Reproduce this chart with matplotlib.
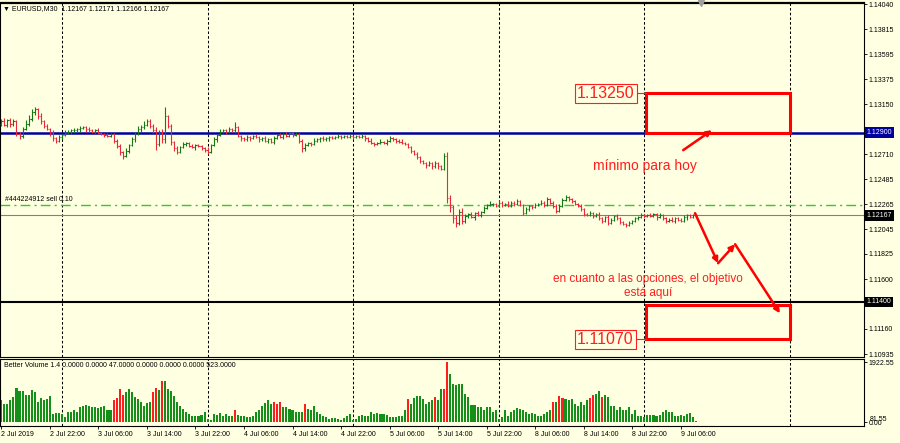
import matplotlib

matplotlib.use("Agg")

import matplotlib.pyplot as plt
from matplotlib.patches import Rectangle
import numpy as np

# ---- data (EURUSD M30, 2 Jul 14:00 -> 9 Jul 07:30) ----
first_open = 1.1298
closes = [
    1.1300, 1.1297, 1.1301, 1.1298, 1.1300, 1.1289, 1.1287, 1.1293, 1.1298, 1.1302,
    1.1308, 1.1311, 1.1305, 1.1300, 1.1296, 1.1293, 1.1290, 1.1285, 1.1283, 1.1286,
    1.1288, 1.1290, 1.1291, 1.1292, 1.1292, 1.1293, 1.1294, 1.1295, 1.1293, 1.1292,
    1.1291, 1.1292, 1.1290, 1.1289, 1.1288, 1.1287, 1.1289, 1.1283, 1.1278, 1.1273,
    1.1269, 1.1274, 1.1279, 1.1284, 1.1289, 1.1293, 1.1295, 1.1297, 1.1300, 1.1296,
    1.1292, 1.1280, 1.1290, 1.1284, 1.1305, 1.1296, 1.1282, 1.1276, 1.1273, 1.1277,
    1.1280, 1.1281, 1.1278, 1.1277, 1.1279, 1.1278, 1.1276, 1.1275, 1.1273, 1.1279,
    1.1284, 1.1288, 1.1291, 1.1292, 1.1291, 1.1293, 1.1292, 1.1295, 1.1287, 1.1285,
    1.1284, 1.1286, 1.1285, 1.1287, 1.1286, 1.1284, 1.1285, 1.1283, 1.1284, 1.1282,
    1.1285, 1.1288, 1.1286, 1.1289, 1.1287, 1.1290, 1.1288, 1.1289, 1.1283, 1.1276,
    1.1279, 1.1281, 1.1280, 1.1283, 1.1284, 1.1285, 1.1284, 1.1285, 1.1286, 1.1285,
    1.1286, 1.1287, 1.1286, 1.1287, 1.1286, 1.1287, 1.1286, 1.1287, 1.1286, 1.1287,
    1.1285, 1.1283, 1.1281, 1.1280, 1.1281, 1.1282, 1.1281, 1.1283, 1.1285, 1.1284,
    1.1283, 1.1282, 1.1281, 1.1280, 1.1277, 1.1274, 1.1271, 1.1268, 1.1265, 1.1263,
    1.1261, 1.1263, 1.1260, 1.1263, 1.1260, 1.1258, 1.1269, 1.1232, 1.1224, 1.1214,
    1.1210, 1.1220, 1.1212, 1.1216, 1.1218, 1.1215, 1.1219, 1.1217, 1.1220, 1.1223,
    1.1226, 1.1227, 1.1227, 1.1225, 1.1228, 1.1226, 1.1227, 1.1225, 1.1228, 1.1227,
    1.1229, 1.1226, 1.1219, 1.1222, 1.1225, 1.1224, 1.1226, 1.1227, 1.1228, 1.1226,
    1.1231, 1.1228, 1.1225, 1.1221, 1.1225, 1.1230, 1.1233, 1.1231, 1.1229, 1.1227,
    1.1225, 1.1222, 1.1218, 1.1217, 1.1219, 1.1216, 1.1218, 1.1214, 1.1212, 1.1215,
    1.1210, 1.1213, 1.1216, 1.1214, 1.1211, 1.1209, 1.1208, 1.1210, 1.1212, 1.1214,
    1.1215, 1.1217, 1.1216, 1.1217, 1.1216, 1.1218, 1.1215, 1.1217, 1.1214, 1.1212,
    1.1213, 1.1212, 1.1214, 1.1213, 1.1212, 1.1215, 1.1217, 1.1215, 1.1217, 1.12167,
]
# wick length above / below the body, in pips
wick_up = [
    2, 3, 1, 2, 2, 1, 2, 2, 3, 4,
    3, 2, 1, 2, 1, 2, 1, 2, 1, 2,
    1, 2, 1, 1, 2, 1, 2, 1, 1, 2,
    1, 1, 2, 1, 1, 2, 1, 1, 1, 2,
    1, 2, 1, 2, 2, 3, 2, 3, 2, 2,
    2, 3, 2, 3, 8, 1, 2, 1, 2, 1,
    2, 1, 1, 2, 1, 1, 1, 1, 2, 1,
    2, 1, 2, 1, 1, 2, 1, 4, 1, 1,
    1, 2, 1, 1, 2, 1, 1, 2, 1, 1,
    2, 1, 2, 1, 2, 1, 1, 2, 1, 1,
    2, 1, 1, 2, 1, 1, 2, 1, 1, 1,
    1, 2, 1, 1, 1, 2, 1, 1, 1, 2,
    1, 1, 2, 1, 1, 2, 1, 1, 2, 1,
    1, 1, 2, 1, 1, 1, 1, 2, 1, 1,
    1, 2, 1, 2, 1, 1, 3, 4, 3, 2,
    3, 2, 3, 2, 1, 2, 1, 2, 1, 2,
    1, 2, 1, 1, 2, 1, 1, 2, 1, 1,
    2, 1, 1, 2, 1, 1, 2, 1, 2, 1,
    2, 1, 1, 2, 2, 2, 2, 1, 1, 1,
    1, 2, 1, 1, 2, 1, 1, 2, 1, 1,
    2, 1, 1, 2, 1, 1, 1, 2, 1, 1,
    1, 2, 1, 1, 2, 1, 1, 2, 1, 1,
    1, 2, 1, 1, 1, 2, 1, 1, 1, 0.4,
]
wick_dn = [
    2, 1, 2, 3, 2, 2, 3, 2, 1, 2,
    2, 2, 3, 2, 2, 1, 3, 2, 2, 1,
    2, 1, 1, 2, 1, 1, 2, 1, 2, 1,
    1, 2, 1, 1, 2, 1, 1, 2, 2, 3,
    2, 1, 2, 1, 2, 1, 2, 2, 1, 2,
    2, 5, 2, 3, 3, 2, 3, 2, 2, 1,
    1, 2, 1, 1, 2, 1, 1, 2, 2, 1,
    1, 2, 1, 1, 2, 1, 1, 2, 1, 2,
    1, 1, 2, 1, 1, 2, 1, 1, 2, 1,
    2, 1, 1, 2, 1, 1, 2, 1, 2, 3,
    2, 1, 2, 1, 1, 2, 1, 1, 2, 1,
    1, 1, 2, 1, 1, 1, 2, 1, 1, 1,
    2, 1, 1, 2, 1, 1, 1, 2, 1, 1,
    2, 1, 1, 1, 1, 2, 1, 1, 2, 1,
    2, 1, 2, 1, 2, 1, 1, 4, 4, 4,
    4, 2, 3, 2, 2, 1, 2, 1, 2, 1,
    1, 1, 2, 1, 1, 2, 1, 1, 1, 2,
    1, 1, 2, 1, 1, 2, 1, 1, 1, 2,
    1, 1, 2, 2, 1, 1, 1, 2, 1, 1,
    1, 1, 2, 1, 1, 2, 1, 1, 2, 1,
    2, 1, 1, 1, 2, 1, 2, 1, 1, 1,
    1, 1, 2, 1, 1, 1, 2, 1, 1, 2,
    1, 1, 2, 1, 1, 1, 2, 1, 1, 0.1,
]
volumes = [
    700, 590, 590, 700, 800, 1100, 1010, 1010, 870, 860,
    1030, 980, 640, 770, 700, 750, 850, 270, 300, 300,
    250, 160, 320, 340, 400, 320, 480, 510, 555, 530,
    480, 470, 450, 480, 530, 375, 375, 700, 770, 1045,
    870, 960, 1070, 960, 800, 750, 640, 530, 600, 640,
    960, 1090, 1030, 1330, 1300, 1070, 1000, 850, 640, 530,
    430, 320, 250, 210, 190, 210, 235, 340, 105, 85,
    270, 235, 300, 210, 270, 210, 210, 400, 235, 210,
    190, 160, 180, 210, 320, 375, 510, 600, 700, 590,
    660, 590, 640, 480, 480, 430, 375, 340, 330, 320,
    590, 430, 375, 510, 340, 270, 190, 150, 105, 130,
    130, 105, 85, 130, 190, 270, 55, 105, 190, 235,
    190, 190, 320, 270, 290, 270, 270, 235, 160, 160,
    180, 190, 190, 400, 725, 590, 770, 850, 850, 750,
    590, 660, 700, 800, 700, 1045, 1070, 1922.55, 1545, 1230,
    1200, 1230, 1230, 905, 800, 555, 555, 480, 480, 375,
    480, 500, 340, 375, 105, 160, 375, 190, 340, 400,
    450, 430, 375, 320, 270, 300, 270, 210, 210, 270,
    320, 375, 640, 640, 830, 780, 725, 700, 725, 590,
    510, 660, 555, 700, 770, 875, 905, 1000, 800, 875,
    800, 530, 510, 400, 480, 375, 375, 480, 270, 375,
    210, 190, 160, 235, 235, 235, 190, 235, 340, 375,
    320, 340, 190, 210, 235, 210, 270, 300, 160, 40,
]
red_volume_bars = [37, 38, 39, 40, 50, 51, 53, 77, 90, 91, 92, 100,
                   134, 143, 146, 147, 182, 184, 185, 194, 195, 198]

time_labels = ["2 Jul 2019", "2 Jul 22:00", "3 Jul 06:00", "3 Jul 14:00",
               "3 Jul 22:00", "4 Jul 06:00", "4 Jul 14:00", "4 Jul 22:00",
               "5 Jul 06:00", "5 Jul 14:00", "5 Jul 22:00", "8 Jul 06:00",
               "8 Jul 14:00", "8 Jul 22:00", "9 Jul 06:00"]
bars_per_label = 16
day_starts = [20, 68, 116, 164, 212, 260]

price_ticks = [1.14040, 1.13815, 1.13595, 1.13375, 1.13150, 1.12930, 1.12710,
               1.12485, 1.12265, 1.12045, 1.11825, 1.11600, 1.11380, 1.11160,
               1.10935]
vol_top = 1922.55
vol_level = 81.55

support_level = 1.12900
target_level = 1.11400
bid_price = 1.12167
sell_price = 1.12260
upper_zone = (1.13250, 1.12900)
lower_zone = (1.11370, 1.11070)
zone_bars = (212.5, 260.0)
path_bars = [228.7, 236.3, 241.9, 256.7]
path_prices = [1.12186, 1.11743, 1.11911, 1.11299]
hint_bars = [224.8, 234.3]
hint_prices = [1.12745, 1.12922]

# ---- styling ----
BG = "#FFFFE1"
RED = "#FF1E1E"
UP = "#137A13"
DOWN = "#E8283C"
VOL_GREEN = "#14901A"

plt.rcParams["font.family"] = ["Liberation Sans", "DejaVu Sans"]
plt.rcParams["font.size"] = 5

n = min(len(closes), len(wick_up), len(wick_dn), len(volumes))
idx = np.arange(n)
c = np.array(closes[:n])
o = np.concatenate([[first_open], c[:-1]])
pip = 0.0001
hi = np.maximum(o, c) + np.array(wick_up[:n]) * pip
lo = np.minimum(o, c) - np.array(wick_dn[:n]) * pip
cols = np.where(c >= o, UP, DOWN)

fig = plt.figure(figsize=(9.0, 4.43), dpi=100, facecolor=BG)
W, H = 900.0, 443.0
ax = fig.add_axes([0, (H - 357.3) / H, 864 / W, (357.3 - 3) / H], facecolor=BG)
vax = fig.add_axes([0, (H - 425.5) / H, 864 / W, (425.5 - 359.3) / H], facecolor=BG)

xlim = (-0.43, 284.4)
for a in (ax, vax):
    a.set_xlim(*xlim)
    for s in a.spines.values():
        s.set_color("black")
        s.set_linewidth(0.8)
    for d in day_starts:
        a.axvline(d, color="black", lw=0.75, ls=(0, (2.5, 2)), zorder=1)
ax.spines["top"].set_linewidth(1.6)

ax.set_ylim(1.10909, 1.14049)
vax.set_ylim(-106, 2009)

# horizontal levels
ax.axhline(support_level, color="#0000A0", lw=1.8, zorder=2)
ax.axhline(target_level, color="black", lw=1.5, zorder=2)
ax.axhline(bid_price, color="#808080", lw=0.8, zorder=2)
ax.axhline(sell_price, color="#32C832", lw=1.0, ls=(0, (7, 3, 1.5, 3)), zorder=2)

# OHLC bars
ax.vlines(idx, lo, hi, colors=cols, lw=0.8, zorder=3)
ax.hlines(o, idx - 0.4, idx, colors=cols, lw=0.8, zorder=3)
ax.hlines(c, idx, idx + 0.4, colors=cols, lw=0.8, zorder=3)

# volume bars
vcols = [RED if i in red_volume_bars else VOL_GREEN for i in range(n)]
vax.bar(idx, volumes[:n], width=0.68, color=vcols, linewidth=0, zorder=2)

# price axis (right)
ax.set_xticks([])
ax.yaxis.tick_right()
ax.set_yticks(price_ticks)
ax.set_yticklabels([f"{p:.5f}" for p in price_ticks])
ax.tick_params(axis="y", direction="out", length=1.8, width=0.6, pad=1.5, labelsize=5)

label_x = 1.0 + 2.5 / 864
for level, fc in ((support_level, "#0000A0"), (bid_price, "black"), (target_level, "black")):
    ax.text(label_x, level, f"{level:.5f}", transform=ax.get_yaxis_transform(),
            ha="left", va="center", color="white", fontsize=5, zorder=10,
            clip_on=False, bbox=dict(boxstyle="square,pad=0.25", fc=fc, ec="none"))

# volume axis
vax.yaxis.tick_right()
vax.set_yticks([0, vol_top])
vax.set_yticklabels(["0.00", f"{vol_top:.2f}"])
vax.tick_params(axis="y", direction="out", length=1.8, width=0.6, pad=1.5, labelsize=5)
vax.text(1.0 + 6 / 864, vol_level, f"{vol_level:.2f}", transform=vax.get_yaxis_transform(),
         ha="left", va="center", fontsize=5, clip_on=False)

label_pos = np.arange(len(time_labels)) * bars_per_label
vax.set_xticks(label_pos)
vax.set_xticklabels(time_labels, ha="left")
vax.tick_params(axis="x", direction="out", length=1.8, width=0.6, pad=2.5, labelsize=5)

# header texts
ax.text(3 / 864, 1 - 5.5 / 354, "\u25bc EURUSD,M30  1.12167 1.12171 1.12166 1.12167",
        transform=ax.transAxes, ha="left", va="center", fontsize=5, zorder=10)
ax.annotate("#444224912 sell 0.10", xy=(5 / 864, sell_price),
            xycoords=("axes fraction", "data"), xytext=(0, 1.2),
            textcoords="offset points", ha="left", va="bottom", fontsize=5, zorder=10)
vax.text(4 / 864, 1 - 6 / 66,
         "Better Volume 1.4 0.0000 0.0000 47.0000 0.0000 0.0000 0.0000 523.0000",
         transform=vax.transAxes, ha="left", va="center", fontsize=5, zorder=10)

# chart shift marker
ax.plot([n + 0.5], [1.14049], marker="v", ms=4, color="#A0A0A0", clip_on=False, zorder=10)

# target zones with price labels
for (top, bottom), level in ((upper_zone, upper_zone[0]), (lower_zone, lower_zone[1])):
    ax.add_patch(Rectangle((zone_bars[0], bottom), zone_bars[1] - zone_bars[0], top - bottom,
                           fill=False, ec="#FF0000", lw=2.2, zorder=5))
    ax.plot([zone_bars[0] - 5, zone_bars[0]], [level, level], color=RED, lw=0.8, zorder=5)
    ax.text(189.8, level, f"{level:.5f}", ha="left", va="center", fontsize=11.5,
            color=RED, zorder=6,
            bbox=dict(boxstyle="square,pad=0.12", fc=BG, ec=RED, lw=0.8))

# arrows
arrow = dict(arrowstyle="-|>", color="#FF0000", lw=1.8, mutation_scale=8,
             shrinkA=0, shrinkB=0)
for k in range(len(path_bars) - 1):
    ax.annotate("", xy=(path_bars[k + 1], path_prices[k + 1]),
                xytext=(path_bars[k], path_prices[k]), arrowprops=arrow, zorder=6)
ax.annotate("", xy=(hint_bars[1], hint_prices[1]), xytext=(hint_bars[0], hint_prices[0]),
            arrowprops=arrow, zorder=6)

ax.text(212.2, 1.12603, "mínimo para hoy", ha="center", va="center",
        fontsize=10, color=RED, zorder=6)
ax.text(213.2, 1.11601, "en cuanto a las opciones, el objetivo", ha="center",
        va="center", fontsize=8.5, color=RED, zorder=6)
ax.text(213.2, 1.11482, "está aquí", ha="center", va="center",
        fontsize=8.5, color=RED, zorder=6)

fig.savefig("out.png", dpi=100, facecolor=BG)
